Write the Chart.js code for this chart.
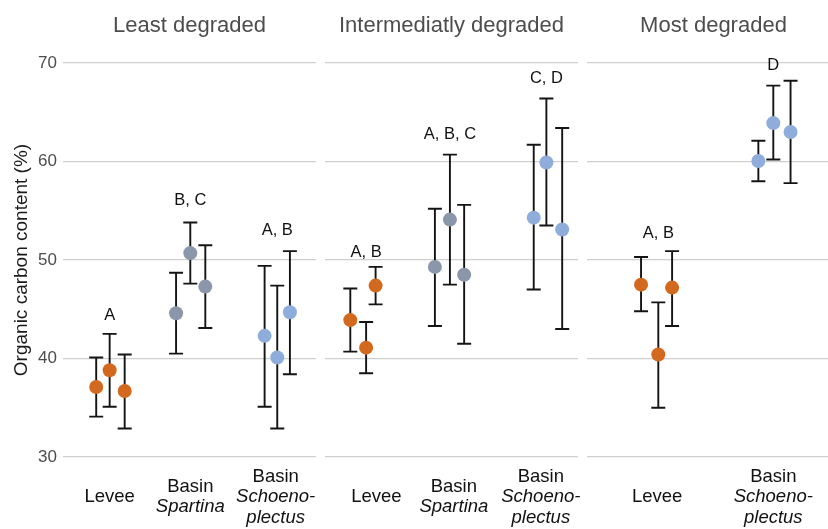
<!DOCTYPE html>
<html>
<head>
<meta charset="utf-8">
<script src="https://cdn.jsdelivr.net/npm/chart.js@4.4.0/dist/chart.umd.min.js"></script>
<style>
  html, body { margin: 0; padding: 0; background: #fff; }
  #wrap { position: relative; width: 828px; height: 529px; overflow: hidden; }
  canvas { position: absolute; top: 0; }
</style>
</head>
<body>
<div id="wrap">
  <canvas id="least" width="322" height="529" style="left:0px"></canvas>
  <canvas id="inter" width="262" height="529" style="left:325px"></canvas>
  <canvas id="most" width="253" height="529" style="left:587px"></canvas>
</div>
<script>
// panel titles and y ticks
var panelTitles = ["Least degraded", "Intermediatly degraded", "Most degraded"];
var yTicks = [30, 40, 50, 60, 70];
var groupColors = ["#d2691e", "#8a96aa", "#8eaddb"];

// category labels (first line plain, next lines italic)
var catsThree = [["Levee"], ["Basin", "Spartina"], ["Basin", "Schoeno-", "plectus"]];
var catsTwo = [["Levee"], ["Basin", "Schoeno-", "plectus"]];

// Least degraded: one row per category, three sites each
var leastCatX = [0.99, 2.01, 3.09];
var leastX = [[0.82, 0.99, 1.18], [1.83, 2.01, 2.20], [2.95, 3.11, 3.27]];
var leastMean = [[37.1, 38.8, 36.7], [44.6, 50.7, 47.3], [42.3, 40.1, 44.7]];
var leastLow = [[34.1, 35.1, 32.9], [40.5, 47.6, 43.1], [35.1, 32.9, 38.4]];
var leastHigh = [[40.1, 42.5, 40.4], [48.7, 53.8, 51.5], [49.4, 47.4, 50.9]];
var leastLetters = ["A", "B, C", "A, B"];
var leastLetterY = [44.4, 56.0, 53.0];

// Intermediatly degraded
var interCatX = [1.05, 2.03, 3.13];
var interX = [[0.72, 0.92, 1.04], [1.79, 1.98, 2.16], [3.04, 3.20, 3.40]];
var interMean = [[43.9, 41.1, 47.4], [49.3, 54.1, 48.5], [54.3, 59.9, 53.1]];
var interLow = [[40.7, 38.5, 45.5], [43.3, 47.5, 41.5], [47.0, 53.5, 43.0]];
var interHigh = [[47.1, 43.7, 49.3], [55.2, 60.7, 55.6], [61.7, 66.4, 63.4]];
var interLetters = ["A, B", "A, B, C", "C, D"];
var interLetterY = [50.8, 62.7, 68.4];

// Most degraded
var mostCatX = [1.01, 2.02];
var mostX = [[0.87, 1.02, 1.14], [1.89, 2.02, 2.17]];
var mostMean = [[47.5, 40.4, 47.2], [60.05, 63.9, 63.0]];
var mostLow = [[44.8, 35.0, 43.3], [58.0, 60.2, 57.8]];
var mostHigh = [[50.3, 45.7, 50.9], [62.1, 67.7, 68.2]];
var mostLetters = ["A, B", "D"];
var mostLetterY = [52.7, 69.8];

Chart.defaults.font.family = '"Liberation Sans", Arial, sans-serif';

function makePanel(id, title, cats, catX, xs, means, lows, highs, letters, letterY, xMax, colors, showY, padRight) {
  var datasets = xs.map(function(group, g) {
    return {
      data: group.map(function(x, i) { return {x: x, y: means[g][i]}; }),
      backgroundColor: colors[g],
      borderWidth: 0,
      pointRadius: 7,
      pointHoverRadius: 7
    };
  });

  // error bars, letters and category labels
  var extras = {
    id: 'extras',
    beforeDatasetsDraw: function(chart) {
      var ctx = chart.ctx, sx = chart.scales.x, sy = chart.scales.y;
      ctx.save();
      ctx.strokeStyle = '#141414';
      ctx.lineWidth = 1.9;
      xs.forEach(function(group, g) {
        group.forEach(function(xv, i) {
          var x = sx.getPixelForValue(xv);
          var y1 = sy.getPixelForValue(lows[g][i]);
          var y2 = sy.getPixelForValue(highs[g][i]);
          ctx.beginPath();
          ctx.moveTo(x, y1); ctx.lineTo(x, y2);
          ctx.moveTo(x - 7, y1); ctx.lineTo(x + 7, y1);
          ctx.moveTo(x - 7, y2); ctx.lineTo(x + 7, y2);
          ctx.stroke();
        });
      });
      ctx.restore();
    },
    afterDraw: function(chart) {
      var ctx = chart.ctx, sx = chart.scales.x, sy = chart.scales.y;
      ctx.save();
      ctx.fillStyle = '#111';
      ctx.textAlign = 'center';
      ctx.textBaseline = 'middle';
      ctx.font = '16.5px "Liberation Sans", Arial, sans-serif';
      letters.forEach(function(t, g) {
        ctx.fillText(t, sx.getPixelForValue(xs[g][1]), sy.getPixelForValue(letterY[g]));
      });
      cats.forEach(function(lines, g) {
        var x = sx.getPixelForValue(catX[g]);
        var y0 = 497 - (lines.length - 1) * 20.5 / 2;
        lines.forEach(function(line, k) {
          ctx.font = (k > 0 ? 'italic ' : '') + '18.5px "Liberation Sans", Arial, sans-serif';
          ctx.fillText(line, x, y0 + k * 20.5);
        });
      });
      ctx.restore();
    }
  };

  return new Chart(id, {
    type: 'scatter',
    data: { datasets: datasets },
    options: {
      responsive: false,
      animation: false,
      events: [],
      layout: { autoPadding: false, padding: { top: 0, left: 0, right: padRight, bottom: 52.3 } },
      plugins: {
        legend: { display: false },
        tooltip: { enabled: false },
        title: {
          display: true,
          text: title,
          fullSize: false,
          color: '#4d4d4d',
          font: { size: 22, weight: 'normal' },
          padding: { top: 13, bottom: 3.9 }
        }
      },
      scales: {
        x: { type: 'linear', min: 0.4, max: xMax, display: false },
        y: {
          min: 28,
          max: 72,
          afterBuildTicks: function(s) { s.ticks = yTicks.map(function(v) { return {value: v}; }); },
          afterFit: function(s) { s.width = showY ? 63 : 0; },
          grid: { color: '#cfcfcf', lineWidth: 1.3, drawTicks: false },
          border: { display: false },
          ticks: { display: showY, color: '#4d4d4d', font: { size: 17 }, padding: 6 },
          title: {
            display: showY,
            text: 'Organic carbon content (%)',
            color: '#1a1a1a',
            font: { size: 19 },
            padding: { top: 10, bottom: 0 }
          }
        }
      }
    },
    plugins: [extras]
  });
}

makePanel('least', panelTitles[0], catsThree, leastCatX, leastX, leastMean, leastLow, leastHigh,
  leastLetters, leastLetterY, 3.6, groupColors, true, 6);
makePanel('inter', panelTitles[1], catsThree, interCatX, interX, interMean, interLow, interHigh,
  interLetters, interLetterY, 3.6, groupColors, false, 9);
makePanel('most', panelTitles[2], catsTwo, mostCatX, mostX, mostMean, mostLow, mostHigh,
  mostLetters, mostLetterY, 2.6, [groupColors[0], groupColors[2]], false, 0);
</script>
</body>
</html>
